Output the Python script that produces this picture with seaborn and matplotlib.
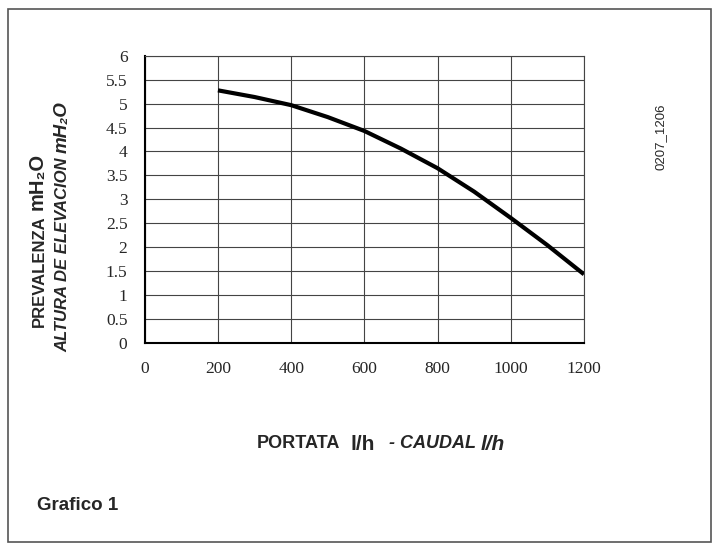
import matplotlib
matplotlib.use("Agg")
import matplotlib.pyplot as plt
from matplotlib.patches import Rectangle
import seaborn as sns
import pandas as pd

# curve
portata = [200, 300, 400, 500, 600, 700, 800, 900, 1000, 1100, 1200]
prevalenza = [5.28, 5.14, 4.97, 4.72, 4.43, 4.06, 3.65, 3.16, 2.61, 2.04, 1.43]
x_ticks = [0, 200, 400, 600, 800, 1000, 1200]
y_ticks = [0, 0.5, 1, 1.5, 2, 2.5, 3, 3.5, 4, 4.5, 5, 5.5, 6]
y_ticklabels = ["0", "0.5", "1", "1.5", "2", "2.5", "3", "3.5", "4", "4.5", "5", "5.5", "6"]

df = pd.DataFrame({"portata": portata, "prevalenza": prevalenza})

sns.set_style("white")
sans = ["Liberation Sans", "DejaVu Sans"]
serif = ["Liberation Serif", "DejaVu Serif"]

W, H = 713, 543
fig = plt.figure(figsize=(W / 100, H / 100), dpi=100)
ax = fig.add_axes([0.203, 0.369, 0.616, 0.528])

sns.lineplot(data=df, x="portata", y="prevalenza", ax=ax, color="black",
             linewidth=3.0, solid_capstyle="butt")

ax.set_xlim(0, 1200)
ax.set_ylim(0, 6)
ax.set_xticks(x_ticks)
ax.set_yticks(y_ticks)
ax.set_yticklabels(y_ticklabels)
for lab in ax.get_xticklabels() + ax.get_yticklabels():
    lab.set_family(serif)
    lab.set_fontsize(12.5)
ax.tick_params(direction="inout", length=7, width=1.0, color="black", pad=9)
ax.tick_params(axis="x", pad=10)
ax.grid(True, color="#444444", linewidth=0.8)
for side in ["left", "bottom"]:
    ax.spines[side].set_color("black")
    ax.spines[side].set_linewidth(1.5)
for side in ["top", "right"]:
    ax.spines[side].set_color("#444444")
    ax.spines[side].set_linewidth(0.8)
ax.set_xlabel("")
ax.set_ylabel("")


def px(x, y):
    return x / W, 1 - y / H


# y axis titles (two rotated lines, pieces stacked upwards)
fig.text(*px(39, 327), "PREVALENZA", rotation=90, ha="center", va="bottom",
         fontsize=12, fontweight="bold", family=sans)
fig.text(*px(37, 210), "mH\u2082O", rotation=90, ha="center", va="bottom",
         fontsize=14.5, fontweight="bold", family=sans)
fig.text(*px(63, 352), "ALTURA DE ELEVACION", rotation=90, ha="center", va="bottom",
         fontsize=12, fontweight="bold", style="italic", family=sans)
fig.text(*px(62, 153), "mH\u2082O", rotation=90, ha="center", va="bottom",
         fontsize=13.5, fontweight="bold", style="italic", family=sans)

# x axis title in pieces
fig.text(*px(257, 444), "PORTATA", ha="left", va="center", fontsize=13,
         fontweight="bold", family=sans)
fig.text(*px(350, 444), "l/h", ha="left", va="center", fontsize=15,
         fontweight="bold", family=sans)
fig.text(*px(389, 444), "- CAUDAL", ha="left", va="center", fontsize=13,
         fontweight="bold", style="italic", family=sans)
fig.text(*px(481, 444), "l/h", ha="left", va="center", fontsize=15,
         fontweight="bold", style="italic", family=sans)

fig.text(*px(37, 505), "Grafico 1", ha="left", va="center", fontsize=13.5,
         fontweight="bold", family=sans)
fig.text(*px(661, 137), "0207_1206", rotation=90, ha="center", va="center",
         fontsize=9.5, family=sans)

# frame round the whole figure
fig.add_artist(Rectangle((8 / W, 1 - 542 / H), 703 / W, 533 / H,
                         transform=fig.transFigure, fill=False,
                         edgecolor="#555555", linewidth=1.2))

fig.savefig("out.png", dpi=100)
